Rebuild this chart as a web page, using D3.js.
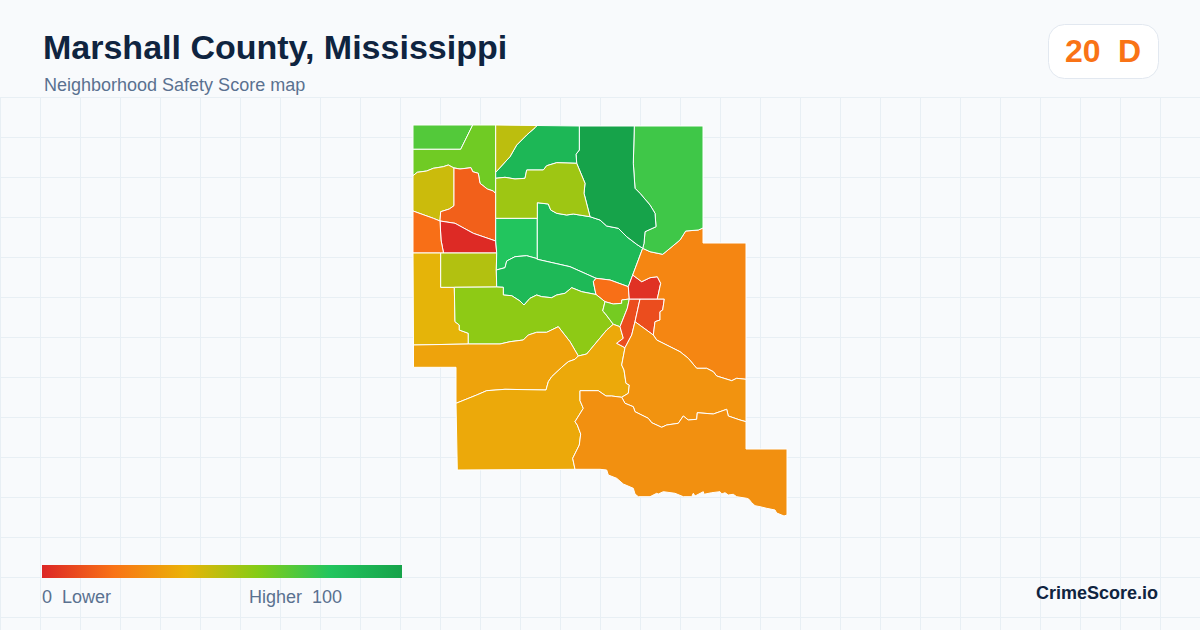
<!DOCTYPE html>
<html><head><meta charset="utf-8">
<script src="https://cdn.jsdelivr.net/npm/d3@7/dist/d3.min.js"></script>
<style>html,body{margin:0;padding:0;background:#f8fafc}svg{display:block}text{font-family:"Liberation Sans",Arial,sans-serif}</style>
</head><body><svg id="c" width="1200" height="630"></svg>
<script>
const titleText = "Marshall County, Mississippi";
const subtitleText = "Neighborhood Safety Score map";
const countyScore = "20", countyGrade = "D";
const legendDomain = [0,20,40,60,80,100];
const legendColors = ["#dc2626","#f97316","#eab308","#84cc16","#22c55e","#16a34a"];
const legendLabels = ["0  Lower","Higher  100"];
const brand = "CrimeScore.io";

const tractScores = [70,64,46,15,1,19,41,51,80,87,87,19,58,63,35,37,10,10,3,26,74,100,88,49,55,30,29];
const tractRings = [
[[413,125],[472.7,125],[460.7,149.3],[413,149.3]],
[[472.7,125],[495.7,125],[495.7,193.7],[493.3,191],[487.3,189],[480,183.3],[478.3,173.3],[472.7,171.7],[471,167.7],[460,169],[453.3,167.7],[448.3,165],[443.3,166.7],[433.3,168.3],[426.7,171],[417.3,172.3],[413,175.7],[413,149.3],[460.7,149.3]],
[[413,175.7],[417.3,172.3],[426.7,171],[433.3,168.3],[443.3,166.7],[448.3,165],[454,168],[454,205.7],[449.3,209],[440.7,211.7],[440,221],[433.3,218.3],[413,211]],
[[454,168],[460,169],[471,167.7],[472.7,171.7],[478.3,173.3],[480,183.3],[487.3,189],[493.3,191],[495.7,193.7],[495.7,241],[473.3,233.3],[455,223.3],[440,221],[440.7,211.7],[449.3,209],[454,205.7]],
[[440,221],[455,223.3],[473.3,233.3],[495.7,241],[496.7,253],[443.5,253],[441,240]],
[[413,211],[433.3,218.3],[440,221],[441,240],[443.5,253],[413,253]],
[[413,253],[440.7,253],[440.7,287.3],[454.3,287.3],[455,321.7],[459.3,325],[459.3,330],[468.3,333.3],[468.3,344],[413.5,345]],
[[440.7,253],[496.7,253],[496.3,270],[496.7,287],[454.3,287.3],[440.7,287.3]],
[[495.7,218.3],[537.3,218.3],[537.3,259.3],[536,258.3],[526.7,255.7],[515,256.7],[506.7,261],[505,267.7],[496.3,270],[496.7,253],[495.7,241]],
[[537.3,202.7],[548.3,204],[550.7,210],[556.7,213.3],[566.7,215],[573.3,214],[590,216.7],[600,220],[606.7,226],[618.3,228.3],[626.7,236.7],[636.7,244.3],[642.7,248.3],[632.7,275],[628.3,286.7],[610,280],[596,278.3],[570,266.7],[537.3,259.3]],
[[496.3,270],[505,267.7],[506.7,261],[515,256.7],[526.7,255.7],[536,258.3],[537.3,259.3],[570,266.7],[596,278.3],[593.3,281.7],[595,290],[596,294.5],[581.7,291.7],[571.7,287.7],[565,293.3],[556.7,295],[551.7,297.7],[541.7,296.7],[536.7,295],[530,298.3],[524,305],[520,301],[511.7,295.7],[503.3,295],[503.3,287.3],[496.7,287]],
[[593.3,281.7],[596,278.3],[610,280],[628.3,286.7],[629.3,299],[621.7,300],[621.7,303.3],[613.3,304],[605,301.7],[596,294.5],[595,290]],
[[454.3,287.3],[496.7,287],[503.3,287.3],[503.3,295],[511.7,295.7],[520,301],[524,305],[530,298.3],[536.7,295],[541.7,296.7],[551.7,297.7],[556.7,295],[565,293.3],[571.7,287.7],[581.7,291.7],[596,294.5],[605,301.7],[602.7,311],[605,313.3],[613.3,324.3],[606.7,330],[586.7,354],[578.3,356],[570,341.7],[558.3,326.7],[546.7,332.3],[536.7,332.3],[528.3,335],[523.3,340],[510,341.7],[500,344],[468.3,344],[468.3,333.3],[459.3,330],[459.3,325],[455,321.7]],
[[605,301.7],[613.3,304],[621.7,303.3],[621.7,300],[629.3,299],[627.3,308.3],[620,326.7],[613.3,324.3],[605,313.3],[602.7,311]],
[[413.5,345],[468.3,344],[500,344],[510,341.7],[523.3,340],[528.3,335],[536.7,332.3],[546.7,332.3],[558.3,326.7],[570,341.7],[578.3,356],[575,359.3],[568.3,361.7],[561.7,367.3],[551.7,376.7],[548.3,381.7],[546,390],[505,389.3],[486.7,390.7],[476.7,395],[456,403.3],[456,367.3],[413.5,367.3]],
[[456,403.3],[476.7,395],[486.7,390.7],[505,389.3],[546,390],[548.3,381.7],[551.7,376.7],[561.7,367.3],[568.3,361.7],[575,359.3],[578.3,356],[586.7,354],[606.7,330],[613.3,324.3],[620,326.7],[623.3,338.3],[616.7,343.3],[625,347.7],[621.7,365],[624,370],[626,383.3],[629.3,385],[628.3,393.3],[621.7,397.3],[611.7,396],[606,396],[598.3,390.7],[580,390.7],[580,400.7],[583.3,408.3],[575,421.7],[577.3,425],[580.7,434],[579.3,445],[572.7,458.3],[575,469.3],[457.3,470]],
[[629.3,299],[640,299],[635,321.7],[631.7,335],[625,347.7],[616.7,343.3],[623.3,338.3],[620,326.7],[627.3,308.3]],
[[640,299],[664.3,299],[662.7,310],[660,311.7],[660,320],[655,321.7],[653.3,335],[635,321.7]],
[[632.7,275],[641.7,281.7],[650,277.7],[657.3,276.7],[660.7,283.3],[657.3,299],[629.3,299],[628.3,286.7]],
[[642.7,248.3],[650,251.7],[662.7,254.3],[670,248.3],[680,240],[685.7,231],[698.3,230],[703,228],[703,243],[746,243],[746,379.3],[736.7,378.3],[731.7,380.7],[716.7,376],[713.3,371.7],[706.7,368.3],[696.7,368.3],[688.3,358.3],[680,351.7],[656.7,340],[653.3,335],[655,321.7],[660,320],[660,311.7],[662.7,310],[664.3,299],[657.3,299],[660.7,283.3],[657.3,276.7],[650,277.7],[641.7,281.7],[632.7,275]],
[[634.3,126],[703,126],[703,228],[698.3,230],[685.7,231],[680,240],[670,248.3],[662.7,254.3],[650,251.7],[642.7,248.3],[644,243.3],[645,231.7],[656,226.7],[655,213.3],[650,205],[640,193.3],[635,188.3],[633.3,163.3]],
[[579.3,126],[634.3,126],[633.3,163.3],[635,188.3],[640,193.3],[650,205],[655,213.3],[656,226.7],[645,231.7],[644,243.3],[642.7,248.3],[636.7,244.3],[626.7,236.7],[618.3,228.3],[606.7,226],[600,220],[590,216.7],[584,193.3],[585,183.3],[576.7,163.3],[576,154.3],[579.3,150]],
[[537,125.5],[579.3,126],[579.3,150],[576,154.3],[576.7,163.3],[556.7,162.7],[546.7,165.7],[543.3,170],[526.7,170],[525,178.3],[515,179],[505,177.3],[495.7,178.3],[495.7,172.3],[510,156.7],[516.7,145],[526.7,135],[535,127.7]],
[[495.7,125],[537,125.5],[535,127.7],[526.7,135],[516.7,145],[510,156.7],[495.7,172.3]],
[[495.7,178.3],[505,177.3],[515,179],[525,178.3],[526.7,170],[543.3,170],[546.7,165.7],[556.7,162.7],[576.7,163.3],[585,183.3],[584,193.3],[590,216.7],[573.3,214],[566.7,215],[556.7,213.3],[550.7,210],[548.3,204],[537.3,202.7],[537.3,218.3],[495.7,218.3]],
[[625,347.7],[631.7,335],[635,321.7],[653.3,335],[656.7,340],[680,351.7],[688.3,358.3],[696.7,368.3],[706.7,368.3],[713.3,371.7],[716.7,376],[731.7,380.7],[736.7,378.3],[746,379.3],[746,421.7],[740,420],[728.3,416],[726.7,409.3],[713.3,414],[697.3,412.7],[696.7,419.3],[688.3,420],[683.3,416],[678.3,423.3],[666.7,425],[661.7,427.3],[651.7,422.7],[648.3,418.3],[635,411.7],[633.3,406.7],[625,403.3],[621.7,397.3],[628.3,393.3],[629.3,385],[626,383.3],[624,370],[621.7,365]],
[[580,390.7],[598.3,390.7],[606,396],[611.7,396],[621.7,397.3],[625,403.3],[633.3,406.7],[635,411.7],[648.3,418.3],[651.7,422.7],[661.7,427.3],[666.7,425],[678.3,423.3],[683.3,416],[688.3,420],[696.7,419.3],[697.3,412.7],[713.3,414],[726.7,409.3],[728.3,416],[740,420],[746,421.7],[746,449],[787,449],[787,515],[784,516],[781.7,515],[776.7,513],[775,510],[766.7,508.3],[760,506.7],[755,505.7],[751.7,502.7],[749,499.3],[746.7,498.3],[736.7,496.7],[733.3,494.3],[728.3,495],[725,492.7],[721.7,494],[720,491.7],[711.7,492.7],[704,494.3],[703.3,491.7],[695,496],[693.3,493.3],[691.7,496.7],[683.3,496.7],[675,493.3],[663.3,491.7],[658.3,494],[656.7,493.3],[650,496.7],[638.3,496.7],[635,494],[633.3,488.3],[623.3,484],[616.7,478.3],[608.3,475],[606.7,470],[600,469.3],[575,469.3],[572.7,458.3],[579.3,445],[580.7,434],[577.3,425],[575,421.7],[583.3,408.3],[580,400.7]]
];

const svg = d3.select("#c");
const W = 1200, H = 630, gridTop = 97, gridStep = 40;
svg.append("rect").attr("width",W).attr("height",H).attr("fill","#f8fafc");

const grid = svg.append("g").attr("stroke","#e8eff4").attr("stroke-width",1);
grid.selectAll("line.v").data(d3.range(0,W,gridStep)).join("line")
  .attr("x1",d=>d+.5).attr("x2",d=>d+.5).attr("y1",gridTop).attr("y2",H);
grid.selectAll("line.h").data(d3.range(gridTop,H,gridStep)).join("line")
  .attr("x1",0).attr("x2",W).attr("y1",d=>d+.5).attr("y2",d=>d+.5);

const color = d3.scaleLinear().domain(legendDomain).range(legendColors);
const fc = {type:"FeatureCollection",features:tractRings.map((r,i)=>({type:"Feature",properties:{score:tractScores[i]},geometry:{type:"Polygon",coordinates:[r.concat([r[0]])]}}))};
const projection = d3.geoIdentity().fitExtent([[413,125],[787,516]],fc);
const path = d3.geoPath(projection);
svg.append("g").selectAll("path").data(fc.features).join("path")
  .attr("d",path).attr("fill",d=>color(d.properties.score))
  .attr("stroke","#fff").attr("stroke-width",1).attr("stroke-linejoin","round");

svg.append("text").attr("x",43).attr("y",59).attr("font-size",34).attr("font-weight",700).attr("fill","#0f2440").text(titleText);
svg.append("text").attr("x",44).attr("y",91).attr("font-size",18).attr("fill","#5a7190").text(subtitleText);

svg.append("rect").attr("x",1048.5).attr("y",24.5).attr("width",110).attr("height",54).attr("rx",16).attr("fill","#fff").attr("stroke","#e2e8f0");
svg.append("text").attr("x",1065).attr("y",62).attr("font-size",32).attr("font-weight",700).attr("fill","#f97316").text(countyScore);
svg.append("text").attr("x",1118).attr("y",62).attr("font-size",32).attr("font-weight",700).attr("fill","#f97316").text(countyGrade);

const legX = d3.scaleLinear().domain([0,100]).range([42,402]);
const grad = svg.append("defs").append("linearGradient").attr("id","lg");
grad.selectAll("stop").data(legendDomain).join("stop")
  .attr("offset",d=>d+"%").attr("stop-color",d=>color(d));
svg.append("rect").attr("x",legX(0)).attr("y",565).attr("width",legX(100)-legX(0)).attr("height",13).attr("fill","url(#lg)");
svg.append("text").attr("x",42).attr("y",603).attr("font-size",18).attr("fill","#5a7190").style("white-space","pre").text(legendLabels[0]);
svg.append("text").attr("x",249).attr("y",603).attr("font-size",18).attr("fill","#5a7190").style("white-space","pre").text(legendLabels[1]);
svg.append("text").attr("x",1158).attr("y",599).attr("text-anchor","end").attr("font-size",18).attr("font-weight",700).attr("fill","#0f2440").text(brand);
</script></body></html>
